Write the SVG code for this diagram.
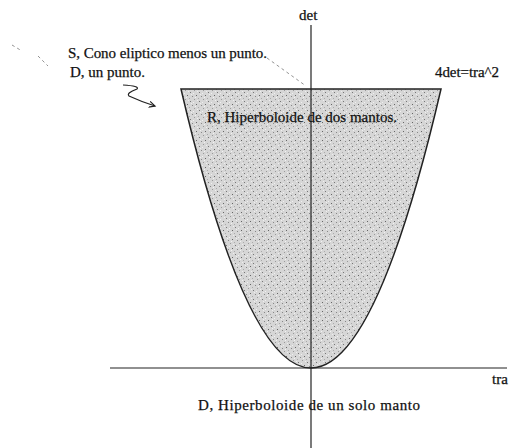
<svg xmlns="http://www.w3.org/2000/svg" width="513" height="448" viewBox="0 0 513 448">
<style>
text{font-family:"Liberation Serif","Times New Roman",serif;font-size:15px;fill:#111;stroke:#111;stroke-width:0.25}
.ax{stroke:#222;stroke-width:1.2;fill:none}
.faint{stroke:#777;stroke-width:0.8;stroke-dasharray:3 3;fill:none}
</style>
<defs>
<pattern id="speck" width="9" height="9" patternUnits="userSpaceOnUse">
<rect width="9" height="9" fill="#d6d6d6"/>
<rect x="1" y="2" width="1" height="1" fill="#777"/>
<rect x="5" y="0" width="1" height="1" fill="#999"/>
<rect x="7" y="5" width="1" height="1" fill="#666"/>
<rect x="3" y="6" width="1" height="1" fill="#888"/>
<rect x="0" y="8" width="1" height="1" fill="#aaa"/>
<rect x="4" y="3" width="1" height="1" fill="#f0f0f0"/>
<rect x="8" y="1" width="1" height="1" fill="#eee"/>
<rect x="2" y="4" width="1" height="1" fill="#eee"/>
<rect x="6" y="7" width="1" height="1" fill="#f2f2f2"/>
</pattern>
<marker id="ah" markerWidth="8" markerHeight="8" refX="6" refY="4" orient="auto" markerUnits="userSpaceOnUse">
<path d="M0,1 L6,4 L0,7" fill="none" stroke="#222" stroke-width="1.2"/>
</marker>
</defs>
<rect width="513" height="448" fill="#fff"/>
<g id="region">
<path d="M181,89 L441,89 Q376,368 311,368 Q246,368 181,89 Z" fill="url(#speck)" stroke="#222" stroke-width="1.5"/>
</g>
<g id="connectors">
<line class="ax" x1="110" y1="368" x2="507" y2="368"/>
<line class="ax" x1="311" y1="25" x2="311" y2="448"/>
<path d="M123,85 Q140,86 137,89 Q126,93 129,96 Q142,102 155,106" fill="none" stroke="#222" stroke-width="1.2" marker-end="url(#ah)"/>
<line class="faint" x1="267" y1="58" x2="306" y2="86"/>
<line class="faint" x1="12" y1="45" x2="22" y2="51"/>
<line class="faint" x1="38" y1="56" x2="48" y2="66"/>
</g>
<g id="labels">
<text x="299" y="20" font-size="16">det</text>
<text x="68" y="58" textLength="199">S, Cono eliptico menos un punto.</text>
<text x="70" y="77" textLength="75">D, un punto.</text>
<text x="435" y="77" textLength="64">4det=tra^2</text>
<text x="207" y="122" textLength="190">R, Hiperboloide de dos mantos.</text>
<text x="492" y="384" font-size="18">tra</text>
<text x="198" y="410" textLength="222">D, Hiperboloide de un solo manto</text>
</g>
</svg>
